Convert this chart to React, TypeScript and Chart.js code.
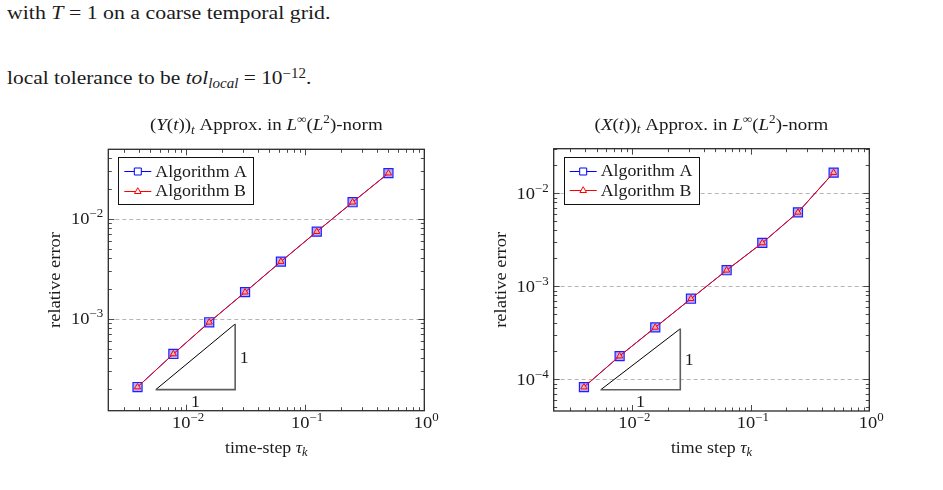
import { useEffect, useRef } from "react";
import { Chart, registerables } from "chart.js";

Chart.register(...registerables);

// Time-step sizes tau_k = 2^-8 ... 2^-1
const timeSteps = [1 / 256, 1 / 128, 1 / 64, 1 / 32, 1 / 16, 1 / 8, 1 / 4, 1 / 2];

// Relative errors of (Y(t))_t in the L^inf(L^2)-norm
const yErrAlgA = [2.07e-4, 4.43e-4, 9.2e-4, 1.84e-3, 3.72e-3, 7.41e-3, 1.46e-2, 2.85e-2];
const yErrAlgB = [2.07e-4, 4.43e-4, 9.2e-4, 1.84e-3, 3.72e-3, 7.41e-3, 1.46e-2, 2.85e-2];

// Relative errors of (X(t))_t in the L^inf(L^2)-norm
const xErrAlgA = [8.26e-5, 1.78e-4, 3.62e-4, 7.36e-4, 1.49e-3, 2.93e-3, 6.25e-3, 1.67e-2];
const xErrAlgB = [8.26e-5, 1.78e-4, 3.62e-4, 7.36e-4, 1.49e-3, 2.93e-3, 6.25e-3, 1.67e-2];

// Slope-one reference triangles: [left x, right x] and [bottom y, top y]
const slopeXLeft = [0.00556, 0.0258];
const slopeYLeft = [1.95e-4, 8.85e-4];
const slopeXRight = [0.00541, 0.0254];
const slopeYRight = [7.73e-5, 3.5e-4];

// Decade exponents that carry tick labels
const xTickExponents = [-2, -1, 0];
const yTickExponentsLeft = [-2, -3];
const yTickExponentsRight = [-2, -3, -4];

const seriesNames = ["Algorithm A", "Algorithm B"];

type Seg = { t: string; it?: boolean; pos?: "sub" | "sup" };

const FONT_FAMILY = '"Liberation Serif", "DejaVu Serif", serif';
const TEXT = "#1b1b1b";
const STRETCH = 1.08;
const FS = 16.5;

function segFont(s: Seg, size: number) {
  const fs = s.pos ? size * 0.7 : size;
  return `${s.it ? "italic " : ""}${fs}px ${FONT_FAMILY}`;
}

function richWidth(ctx: CanvasRenderingContext2D, segs: Seg[], size: number, stretch: number) {
  let w = 0;
  for (const s of segs) {
    ctx.font = segFont(s, size);
    w += ctx.measureText(s.t).width;
  }
  return w * stretch;
}

function drawRich(
  ctx: CanvasRenderingContext2D,
  segs: Seg[],
  x: number,
  y: number,
  size: number,
  align: "left" | "center" | "right",
  stretch: number = STRETCH
) {
  const w = richWidth(ctx, segs, size, stretch);
  const x0 = align === "center" ? x - w / 2 : align === "right" ? x - w : x;
  ctx.save();
  ctx.translate(x0, y);
  ctx.scale(stretch, 1);
  ctx.textAlign = "left";
  ctx.textBaseline = "alphabetic";
  ctx.fillStyle = TEXT;
  let cx = 0;
  for (const s of segs) {
    ctx.font = segFont(s, size);
    const dy = s.pos === "sup" ? -size * 0.42 : s.pos === "sub" ? size * 0.2 : 0;
    ctx.fillText(s.t, cx, dy);
    cx += ctx.measureText(s.t).width;
  }
  ctx.restore();
}

function powerLabel(e: number): Seg[] {
  return [{ t: "10" }, { t: e < 0 ? "\u2212" + Math.abs(e) : String(e), pos: "sup" }];
}

type Panel = {
  variable: string;
  xLabel: string;
  xMin: number;
  xMax: number;
  yMin: number;
  yMax: number;
  errA: number[];
  errB: number[];
  slopeX: number[];
  slopeY: number[];
  yTicks: number[];
  padding: { left: number; right: number; top: number; bottom: number };
};

const leftPanel: Panel = {
  variable: "Y",
  xLabel: "time-step ",
  xMin: 0.00222,
  xMax: 1,
  yMin: 1.2e-4,
  yMax: 0.0494,
  errA: yErrAlgA,
  errB: yErrAlgB,
  slopeX: slopeXLeft,
  slopeY: slopeYLeft,
  yTicks: yTickExponentsLeft,
  padding: { left: 108.3, right: 45.7, top: 49.3, bottom: 59.3 },
};

const rightPanel: Panel = {
  variable: "X",
  xLabel: "time step ",
  xMin: 0.00217,
  xMax: 1,
  yMin: 4.57e-5,
  yMax: 0.0302,
  errA: xErrAlgA,
  errB: xErrAlgB,
  slopeX: slopeXRight,
  slopeY: slopeYRight,
  yTicks: yTickExponentsRight,
  padding: { left: 83.7, right: 73.7, top: 48.7, bottom: 59 },
};

function logTicks(min: number, max: number) {
  const out: { v: number; major: boolean }[] = [];
  const k0 = Math.floor(Math.log10(min));
  const k1 = Math.ceil(Math.log10(max));
  for (let k = k0; k <= k1; k++) {
    for (let m = 1; m <= 9; m++) {
      const v = m * Math.pow(10, k);
      if (v < min * 0.9999 || v > max * 1.0001) continue;
      out.push({ v, major: m === 1 });
    }
  }
  return out;
}

function drawMarker(ctx: CanvasRenderingContext2D, kind: "rect" | "triangle", x: number, y: number) {
  ctx.save();
  ctx.lineWidth = 1;
  if (kind === "rect") {
    ctx.fillStyle = "#ffffff";
    ctx.strokeStyle = "#0000ff";
    ctx.beginPath();
    ctx.rect(x - 3.5, y - 3.5, 7, 7);
    ctx.fill();
    ctx.stroke();
  } else {
    ctx.fillStyle = "#ffffff";
    ctx.strokeStyle = "#ff0000";
    ctx.beginPath();
    ctx.moveTo(x, y - 3.8);
    ctx.lineTo(x + 3.3, y + 2);
    ctx.lineTo(x - 3.3, y + 2);
    ctx.closePath();
    ctx.fill();
    ctx.stroke();
  }
  ctx.restore();
}

function makeDecor(panel: Panel) {
  return {
    id: "pgfDecor",
    beforeDatasetsDraw(chart: any) {
      const { ctx, chartArea: a, scales } = chart;
      const ys = scales.y;
      ctx.save();
      ctx.strokeStyle = "#b5b5b5";
      ctx.lineWidth = 1;
      ctx.setLineDash([4, 3]);
      for (const e of panel.yTicks) {
        const py = Math.round(ys.getPixelForValue(Math.pow(10, e))) + 0.5;
        ctx.beginPath();
        ctx.moveTo(a.left, py);
        ctx.lineTo(a.right, py);
        ctx.stroke();
      }
      ctx.restore();
    },
    afterDatasetsDraw(chart: any) {
      const { ctx, chartArea: a, scales } = chart;
      const xs = scales.x;
      const ys = scales.y;

      // tick marks on all four sides, pointing inwards
      ctx.save();
      ctx.strokeStyle = "#4a4a4a";
      ctx.lineWidth = 1;
      for (const t of logTicks(panel.xMin, panel.xMax)) {
        const px = Math.round(xs.getPixelForValue(t.v)) + 0.5;
        const len = t.major ? 6 : 3.5;
        ctx.beginPath();
        ctx.moveTo(px, a.bottom);
        ctx.lineTo(px, a.bottom - len);
        ctx.moveTo(px, a.top);
        ctx.lineTo(px, a.top + len);
        ctx.stroke();
      }
      for (const t of logTicks(panel.yMin, panel.yMax)) {
        const py = Math.round(ys.getPixelForValue(t.v)) + 0.5;
        const len = t.major ? 6 : 3.5;
        ctx.beginPath();
        ctx.moveTo(a.left, py);
        ctx.lineTo(a.left + len, py);
        ctx.moveTo(a.right, py);
        ctx.lineTo(a.right - len, py);
        ctx.stroke();
      }
      ctx.restore();

      // axis frame
      ctx.save();
      ctx.strokeStyle = "#2a2a2a";
      ctx.lineWidth = 1.3;
      ctx.strokeRect(a.left, a.top, a.right - a.left, a.bottom - a.top);
      ctx.restore();

      // tick labels
      for (const e of xTickExponents) {
        const px = xs.getPixelForValue(Math.pow(10, e));
        drawRich(ctx, powerLabel(e), px + 2, a.bottom + 17, FS, "center", 1.12);
      }
      for (const e of panel.yTicks) {
        const py = ys.getPixelForValue(Math.pow(10, e));
        drawRich(ctx, powerLabel(e), a.left - 5, py + 5.5, FS, "right", 1.12);
      }

      // title
      const title: Seg[] = [
        { t: "(" },
        { t: panel.variable, it: true },
        { t: "(" },
        { t: "t", it: true },
        { t: "))" },
        { t: "t", it: true, pos: "sub" },
        { t: " Approx. in " },
        { t: "L", it: true },
        { t: "\u221E", pos: "sup" },
        { t: "(" },
        { t: "L", it: true },
        { t: "2", pos: "sup" },
        { t: ")-norm" },
      ];
      const cxMid = (a.left + a.right) / 2;
      drawRich(ctx, title, cxMid, a.top - 19, FS, "center", 1.15);

      // axis labels
      drawRich(
        ctx,
        [{ t: panel.xLabel }, { t: "\u03C4", it: true }, { t: "k", it: true, pos: "sub" }],
        cxMid,
        a.bottom + 42,
        FS,
        "center"
      );
      ctx.save();
      ctx.translate(a.left - 48, (a.top + a.bottom) / 2);
      ctx.rotate(-Math.PI / 2);
      drawRich(ctx, [{ t: "relative error" }], 0, 0, FS, "center", 1.12);
      ctx.restore();

      // slope triangle labels
      const sx0 = xs.getPixelForValue(panel.slopeX[0]);
      const sx1 = xs.getPixelForValue(panel.slopeX[1]);
      const sy0 = ys.getPixelForValue(panel.slopeY[0]);
      const sy1 = ys.getPixelForValue(panel.slopeY[1]);
      drawRich(ctx, [{ t: "1" }], sx1 + 9, (sy0 + sy1) / 2 + 6, FS, "center");
      drawRich(ctx, [{ t: "1" }], (sx0 + sx1) / 2, sy0 + 17, FS, "center");

      // legend
      const lx = a.left + 10;
      const ly = a.top + 8;
      const lw = 135;
      const lh = 47;
      ctx.save();
      ctx.fillStyle = "#ffffff";
      ctx.fillRect(lx, ly, lw, lh);
      ctx.strokeStyle = "#111111";
      ctx.lineWidth = 1;
      ctx.strokeRect(Math.round(lx) + 0.5, Math.round(ly) + 0.5, lw, lh);
      const rows = [ly + 14, ly + 33.5];
      const colors = ["#0000ff", "#ff0000"];
      const kinds: ("rect" | "triangle")[] = ["rect", "triangle"];
      rows.forEach((ry, i) => {
        ctx.strokeStyle = colors[i];
        ctx.lineWidth = 1;
        ctx.beginPath();
        ctx.moveTo(lx + 6, Math.round(ry) + 0.5);
        ctx.lineTo(lx + 33, Math.round(ry) + 0.5);
        ctx.stroke();
        drawMarker(ctx, kinds[i], lx + 19.5, Math.round(ry) + 0.5);
        drawRich(ctx, [{ t: seriesNames[i] }], lx + 37, ry + 5.5, FS, "left");
      });
      ctx.restore();
    },
  };
}

function toPoints(xs: number[], ys: number[]) {
  return xs.map((x, i) => ({ x, y: ys[i] }));
}

function makeConfig(panel: Panel): any {
  const [tx0, tx1] = panel.slopeX;
  const [ty0, ty1] = panel.slopeY;
  return {
    type: "scatter",
    data: {
      datasets: [
        {
          label: seriesNames[1],
          data: toPoints(timeSteps, panel.errB),
          showLine: true,
          borderColor: "#ff0000",
          borderWidth: 1,
          pointStyle: "triangle",
          pointRadius: 3.6,
          pointBorderWidth: 1,
          pointBorderColor: "#ff0000",
          pointBackgroundColor: "rgba(255,190,190,0.85)",
          order: 0,
        },
        {
          label: seriesNames[0],
          data: toPoints(timeSteps, panel.errA),
          showLine: true,
          borderColor: "#0000ff",
          borderWidth: 1,
          pointStyle: "rect",
          pointRadius: 6.4,
          pointBorderWidth: 1.2,
          pointBorderColor: "#2020ff",
          pointBackgroundColor: "rgba(150,150,255,0.75)",
          order: 1,
        },
        {
          label: "slope legs",
          data: [
            { x: tx0, y: ty0 },
            { x: tx1, y: ty0 },
            { x: tx1, y: ty1 },
          ],
          showLine: true,
          borderColor: "#5e5e5e",
          borderWidth: 1.6,
          pointRadius: 0,
          order: 2,
        },
        {
          label: "slope",
          data: [
            { x: tx0, y: ty0 },
            { x: tx1, y: ty1 },
          ],
          showLine: true,
          borderColor: "#000000",
          borderWidth: 1,
          pointRadius: 0,
          order: 3,
        },
      ],
    },
    options: {
      responsive: false,
      animation: false,
      events: [],
      layout: { padding: panel.padding },
      plugins: {
        legend: { display: false },
        tooltip: { enabled: false },
        title: { display: false },
      },
      scales: {
        x: { type: "logarithmic", min: panel.xMin, max: panel.xMax, display: false },
        y: { type: "logarithmic", min: panel.yMin, max: panel.yMax, display: false },
      },
    },
    plugins: [makeDecor(panel)],
  };
}

const subStyle: any = { fontSize: "0.7em", position: "relative", top: "0.3em", fontStyle: "italic" };
const supStyle: any = { fontSize: "0.7em", position: "relative", top: "-0.45em" };

export default function App() {
  const leftRef = useRef<HTMLCanvasElement>(null);
  const rightRef = useRef<HTMLCanvasElement>(null);

  useEffect(() => {
    const c1 = new Chart(leftRef.current!, makeConfig(leftPanel));
    const c2 = new Chart(rightRef.current!, makeConfig(rightPanel));
    return () => {
      c1.destroy();
      c2.destroy();
    };
  }, []);

  const lineStyle: any = {
    position: "absolute",
    left: 7,
    fontSize: 19.5,
    lineHeight: "19px",
    whiteSpace: "nowrap",
    transform: "scaleX(1.12)",
    transformOrigin: "left center",
  };

  return (
    <div
      style={{
        position: "absolute",
        left: 0,
        top: 0,
        width: 943,
        height: 490,
        overflow: "hidden",
        background: "#ffffff",
        color: TEXT,
        fontFamily: FONT_FAMILY,
      }}
    >
      <div style={{ ...lineStyle, top: 3 }}>
        with <i>T</i> = 1 on a coarse temporal grid.
      </div>
      <div style={{ ...lineStyle, top: 68, transform: "scaleX(1.1)" }}>
        local tolerance to be <i>tol</i>
        <span style={subStyle}>local</span> = 10<span style={supStyle}>{"\u221212"}</span>.
      </div>
      <canvas
        ref={leftRef}
        width={470}
        height={370}
        style={{ position: "absolute", left: 0, top: 100, width: 470, height: 370 }}
      />
      <canvas
        ref={rightRef}
        width={473}
        height={370}
        style={{ position: "absolute", left: 470, top: 100, width: 473, height: 370 }}
      />
    </div>
  );
}
